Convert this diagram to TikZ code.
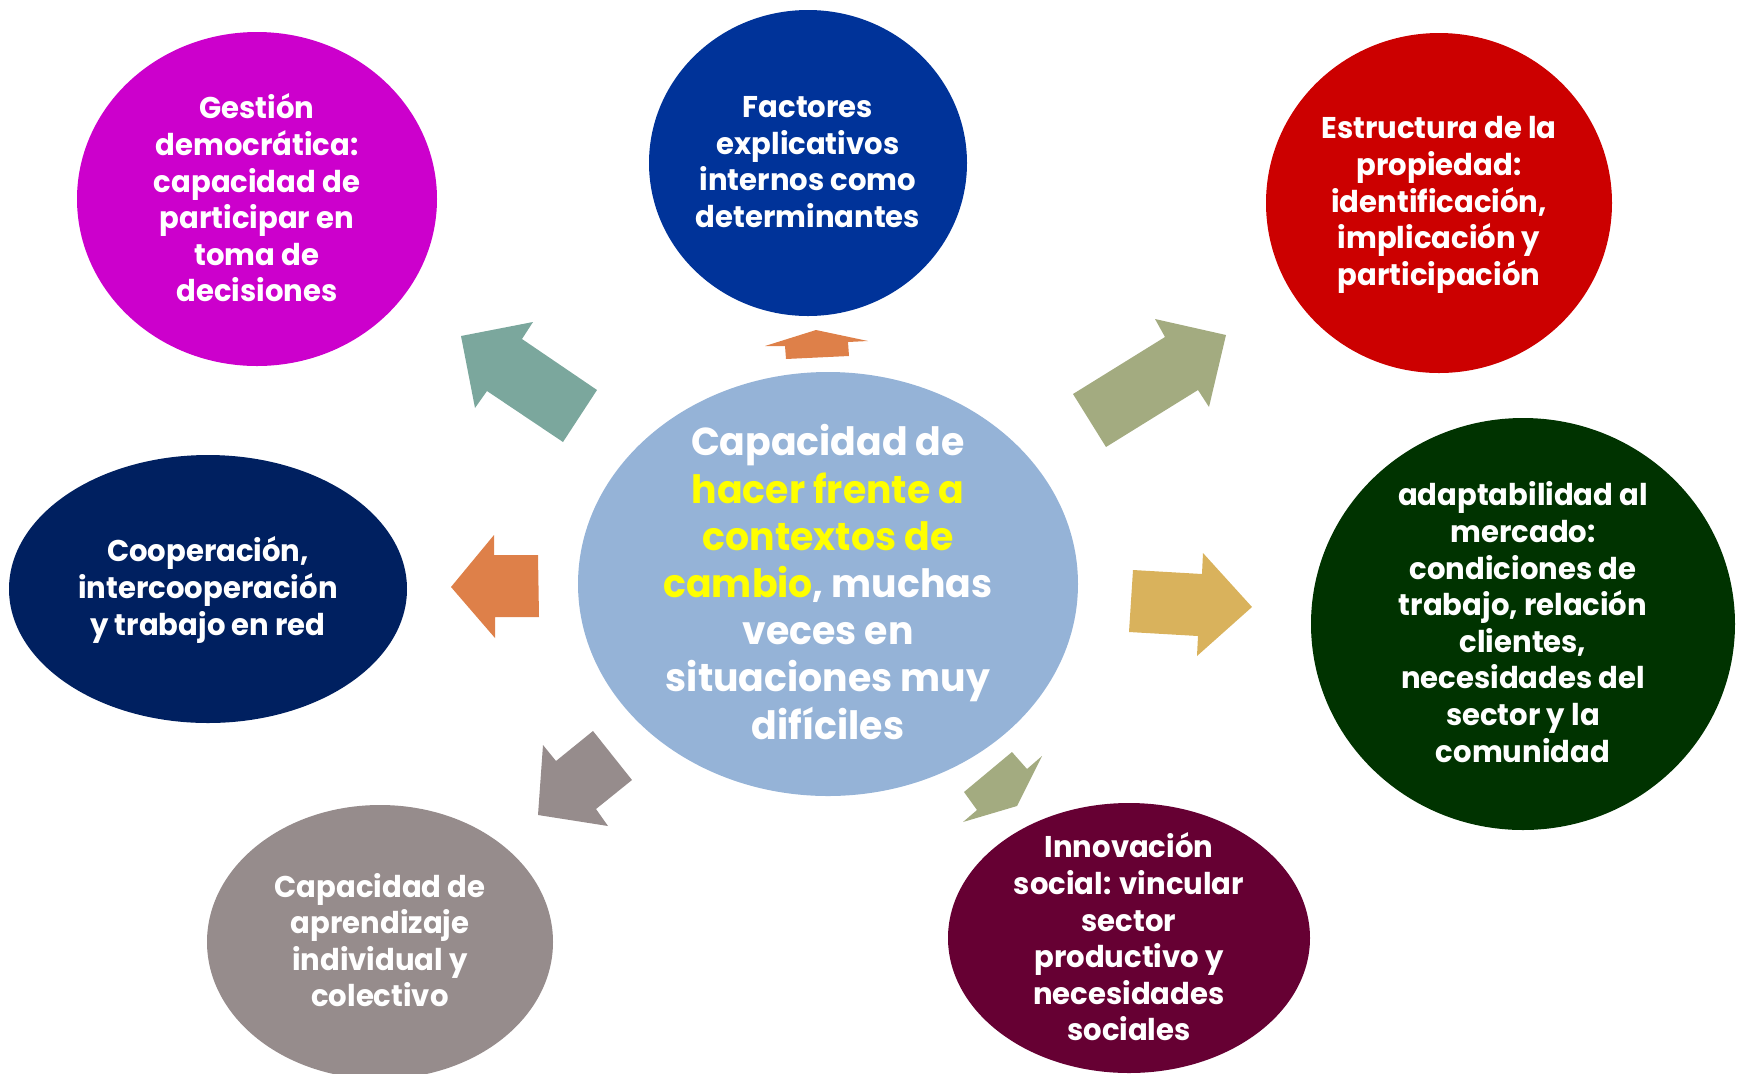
\documentclass[tikz,border=0pt]{standalone}
\usepackage{fontspec}
\setmainfont{Poppins}[BoldFont={Poppins Bold},BoldFeatures={FakeStretch=0.97}]
\usetikzlibrary{shapes.geometric}
\definecolor{cMag}{HTML}{CC00CC}
\definecolor{cBlue}{HTML}{003399}
\definecolor{cRed}{HTML}{CC0000}
\definecolor{cNavy}{HTML}{002060}
\definecolor{cCenter}{HTML}{95B3D7}
\definecolor{cGreen}{HTML}{003300}
\definecolor{cGray}{HTML}{968C8C}
\definecolor{cMaroon}{HTML}{660033}
\definecolor{cTeal}{HTML}{7BA79D}
\definecolor{cOrange}{HTML}{DE8049}
\definecolor{cOlive}{HTML}{A3AB80}
\definecolor{cGold}{HTML}{D9B25C}
\definecolor{cYel}{HTML}{FFFF00}
\tikzset{
  blob/.style={ellipse, draw=none, inner sep=0pt},
  lbl/.style={text=white, align=center, font=\bfseries\fontsize{15}{18.3}\selectfont, inner sep=0pt},
  biglbl/.style={text=white, align=center, font=\bfseries\fontsize{19.5}{23.6}\selectfont, inner sep=0pt},
}
\begin{document}
\begin{tikzpicture}[x=0.5pt,y=-0.5pt]
\useasboundingbox (0,0) rectangle (1742,1073);
\clip (0,0) rectangle (1742,1073);
% ellipses
\node[blob, fill=cMag, minimum width=180pt, minimum height=167pt] (e1) at (257,199) {};
\node[blob, fill=cBlue, minimum width=159pt, minimum height=153pt] (e2) at (808,163) {};
\node[blob, fill=cRed, minimum width=173pt, minimum height=170pt] (e3) at (1439,203) {};
\node[blob, fill=cNavy, minimum width=199pt, minimum height=134pt] (e4) at (208,589) {};
\node[blob, fill=cCenter, minimum width=250pt, minimum height=212pt] (e5) at (828,584) {};
\node[blob, fill=cGreen, minimum width=212pt, minimum height=206pt] (e6) at (1523,624) {};
\node[blob, fill=cGray, minimum width=173pt, minimum height=137pt] (e7) at (380,942) {};
\node[blob, fill=cMaroon, minimum width=181pt, minimum height=135pt] (e8) at (1129,938) {};
% labels
\node[lbl] (t1) at (257,198) {Gestión\\democrática:\\capacidad de\\participar en\\toma de\\decisiones};
\node[lbl] (t2) at (808,162) {Factores\\explicativos\\internos como\\determinantes};
\node[lbl] (t3) at (1439,205) {Estructura de la\\propiedad:\\identificación,\\implicación y\\participación};
\node[lbl] (t4) at (208,590) {Cooperación,\\intercooperación\\y trabajo en red};
\node[biglbl] (t5) at (828,582) {Capacidad de\\\textcolor{cYel}{hacer frente a}\\\textcolor{cYel}{contextos de}\\\textcolor{cYel}{cambio}, muchas\\veces en\\situaciones muy\\difíciles};
\node[lbl] (t6) at (1523,622) {adaptabilidad al\\mercado:\\condiciones de\\trabajo, relación\\clientes,\\necesidades del\\sector y la\\comunidad};
\node[lbl] (t7) at (380,940) {Capacidad de\\aprendizaje\\individual y\\colectivo};
\node[lbl] (t8) at (1129,937) {Innovación\\social: vincular\\sector\\productivo y\\necesidades\\sociales};
% block arrows
\fill[cTeal] (461,336) -- (533,322) -- (522,339) -- (597,390) -- (563,442) -- (487,391) -- (475,408) -- cycle;
\fill[cOrange] (765,346) -- (816,330) -- (868,341) -- (848,342) -- (849,356) -- (786,359) -- (785,346) -- cycle;
\fill[cOlive] (1073,394) -- (1165,337) -- (1155,319) -- (1226,335) -- (1209,407) -- (1198,390) -- (1106,447) -- cycle;
\fill[cOrange] (451,587) -- (494,535) -- (494,555) -- (538,555) -- (539,617) -- (495,617) -- (495,638) -- cycle;
\fill[cGold] (1133,570) -- (1202,574) -- (1203,553) -- (1252,607) -- (1197,656) -- (1198,636) -- (1129,632) -- cycle;
\fill[cGray] (543,745) -- (556,761) -- (593,731) -- (632,780) -- (596,809) -- (608,826) -- (538,815) -- cycle;
\fill[cOlive] (1012,752) -- (1027,769) -- (1042,756) -- (1017,806) -- (963,822) -- (977,810) -- (964,792) -- cycle;
\end{tikzpicture}
\end{document}
